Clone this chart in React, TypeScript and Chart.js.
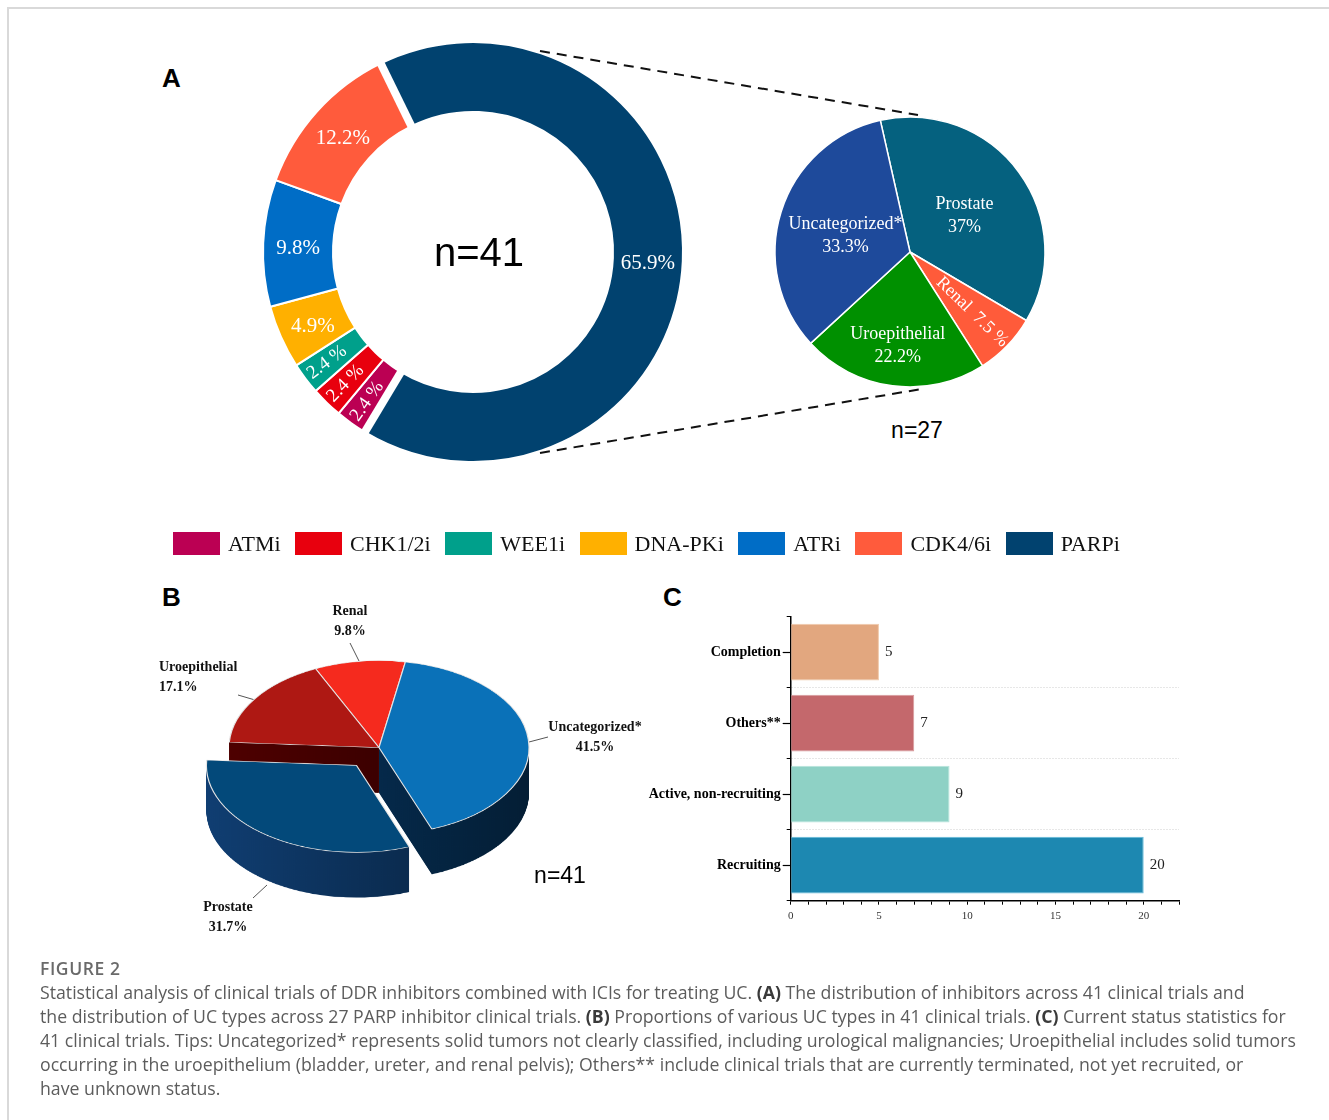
import React, { useEffect, useRef } from 'react';
import { Chart, registerables } from 'chart.js';

Chart.register(...registerables);

const SERIF = '"Liberation Serif", "Times New Roman", serif';
const SANS = '"Liberation Sans", Arial, sans-serif';
const CAPTION = '"Open Sans", Lato, sans-serif';

// ---------- Panel A (left): inhibitors across clinical trials ----------
const inhibitorLabels = ['ATMi', 'CHK1/2i', 'WEE1i', 'DNA-PKi', 'ATRi', 'CDK4/6i', 'PARPi'];
const inhibitorCounts = [1, 1, 1, 2, 4, 5, 27];
const inhibitorPctLabels = ['2.4 %', '2.4 %', '2.4 %', '4.9%', '9.8%', '12.2%', '65.9%'];
const inhibitorColors = ['#bb0053', '#e8000e', '#00a08b', '#ffb000', '#006dc6', '#ff5b3c', '#01426f'];

// ---------- Panel A (right): UC types in PARP inhibitor trials ----------
const parpLabels = ['Prostate', 'Renal', 'Uroepithelial', 'Uncategorized*'];
const parpPct = [37, 7.5, 22.2, 33.3];
const parpPctLabels = ['37%', '7.5 %', '22.2%', '33.3%'];
const parpColors = ['#05617f', '#ff5b3a', '#009000', '#1e4a9b'];

// ---------- Panel B: UC types in all trials ----------
const ucLabels = ['Renal', 'Uncategorized*', 'Prostate', 'Uroepithelial'];
const ucCounts = [4, 17, 13, 7];
const ucPctLabels = ['9.8%', '41.5%', '31.7%', '17.1%'];
const ucTopColors = ['#f52a1e', '#0a71b8', '#03497a', '#ae1813'];
const ucSideColors = ['#6a0a05', '#05294a', '#0c3058', '#3c0000'];
const explodedSlice = 'Prostate';

// ---------- Panel C: trial status ----------
const statusLabels = ['Completion', 'Others**', 'Active, non-recruiting', 'Recruiting'];
const statusCounts = [5, 7, 9, 20];
const statusColors = ['#e2a77f', '#c4686c', '#8ed1c5', '#1d88b1'];
const statusBorders = ['#f0c9aa', '#d89a9d', '#b6e4db', '#63bbdb'];
const statusAxisMax = 22;
const statusMajorStep = 5;

const sum = (a: number[]) => a.reduce((s, v) => s + v, 0);
const midAngle = (arc: any) => (arc.startAngle + arc.endAngle) / 2;
const shade = (hex: string, f: number) => {
  const n = parseInt(hex.slice(1), 16);
  const ch = [(n >> 16) & 255, (n >> 8) & 255, n & 255].map((v) => Math.max(0, Math.min(255, Math.round(v * f))));
  return `rgb(${ch[0]},${ch[1]},${ch[2]})`;
};

function useChart(ref: React.RefObject<HTMLCanvasElement>, make: () => any) {
  useEffect(() => {
    if (!ref.current) return;
    const chart = new Chart(ref.current, make());
    return () => chart.destroy();
  }, []);
}

function DonutA() {
  const ref = useRef<HTMLCanvasElement>(null);
  useChart(ref, () => {
    const total = sum(inhibitorCounts);
    const plugin = {
      id: 'donutDecor',
      afterDatasetsDraw(chart: any) {
        const { ctx } = chart;
        const arcs = chart.getDatasetMeta(0).data;
        const main = arcs[inhibitorLabels.indexOf('PARPi')];
        ctx.save();
        ctx.strokeStyle = '#ffffff';
        ctx.lineWidth = 8;
        for (const a of [main.startAngle, main.endAngle]) {
          ctx.beginPath();
          ctx.moveTo(main.x + Math.cos(a) * (main.innerRadius - 3), main.y + Math.sin(a) * (main.innerRadius - 3));
          ctx.lineTo(main.x + Math.cos(a) * (main.outerRadius + 3), main.y + Math.sin(a) * (main.outerRadius + 3));
          ctx.stroke();
        }
        ctx.fillStyle = '#ffffff';
        ctx.textAlign = 'center';
        ctx.textBaseline = 'middle';
        arcs.forEach((arc: any, i: number) => {
          const m = midAngle(arc);
          const small = inhibitorCounts[i] / total < 0.04;
          const r = (arc.innerRadius + arc.outerRadius) / 2 + (small ? 8 : 0);
          ctx.save();
          ctx.translate(arc.x + Math.cos(m) * r, arc.y + Math.sin(m) * r);
          if (small) ctx.rotate(m + Math.PI);
          ctx.font = `${small ? 19 : 21}px ${SERIF}`;
          ctx.fillText(inhibitorPctLabels[i], 0, small ? 0 : 4);
          ctx.restore();
        });
        ctx.fillStyle = '#000000';
        ctx.font = `40px ${SANS}`;
        ctx.fillText(`n=${total}`, main.x + 6, main.y + 3);
        ctx.restore();
      },
    };
    return {
      type: 'doughnut',
      data: {
        labels: inhibitorLabels,
        datasets: [{ data: inhibitorCounts, backgroundColor: inhibitorColors, borderColor: '#ffffff', borderWidth: 2 }],
      },
      options: {
        responsive: false,
        animation: false,
        radius: 210,
        cutout: '66.67%',
        rotation: 211,
        layout: { padding: 0 },
        plugins: { legend: { display: false }, tooltip: { enabled: false } },
      },
      plugins: [plugin],
    };
  });
  return <canvas ref={ref} width={440} height={440} style={{ position: 'absolute', left: 253, top: 32 }} />;
}

function PieParp() {
  const ref = useRef<HTMLCanvasElement>(null);
  useChart(ref, () => {
    const plugin = {
      id: 'parpLabels',
      afterDatasetsDraw(chart: any) {
        const { ctx } = chart;
        const arcs = chart.getDatasetMeta(0).data;
        ctx.save();
        ctx.fillStyle = '#ffffff';
        ctx.textAlign = 'center';
        ctx.textBaseline = 'middle';
        ctx.font = `18px ${SERIF}`;
        arcs.forEach((arc: any, i: number) => {
          const m = midAngle(arc);
          const R = arc.outerRadius;
          const share = parpPct[i];
          if (share < 10) {
            const r = R * 0.64;
            ctx.save();
            ctx.translate(arc.x + Math.cos(m) * r, arc.y + Math.sin(m) * r);
            ctx.rotate(m);
            ctx.fillText(`${parpLabels[i]}  ${parpPctLabels[i]}`, 0, 0);
            ctx.restore();
          } else {
            const r = R * (share > 30 ? 0.5 : 0.7);
            const x = arc.x + Math.cos(m) * r;
            const y = arc.y + Math.sin(m) * r + (share > 30 ? 4 : 0);
            ctx.fillText(parpLabels[i], x, y - 11.5);
            ctx.fillText(parpPctLabels[i], x, y + 11.5);
          }
        });
        ctx.restore();
      },
    };
    return {
      type: 'pie',
      data: {
        labels: parpLabels,
        datasets: [{ data: parpPct, backgroundColor: parpColors, borderColor: '#ffffff', borderWidth: 1.5 }],
      },
      options: {
        responsive: false,
        animation: false,
        radius: 135,
        rotation: -12.7,
        layout: { padding: 0 },
        plugins: { legend: { display: false }, tooltip: { enabled: false } },
      },
      plugins: [plugin],
    };
  });
  return <canvas ref={ref} width={300} height={300} style={{ position: 'absolute', left: 760, top: 102 }} />;
}

const SQUASH = 0.58;
function Pie3D() {
  const ref = useRef<HTMLCanvasElement>(null);
  useChart(ref, () => {
    const DEPTH = 78;
    const EXPLODE = 38;
    const plugin = {
      id: 'pie3d',
      beforeDatasetsDraw(chart: any) {
        const { ctx } = chart;
        const arcs = chart.getDatasetMeta(0).data;
        const order = arcs.map((_: any, i: number) => i).sort(
          (i: number, j: number) => Math.sin(midAngle(arcs[i])) - Math.sin(midAngle(arcs[j]))
        );
        order.forEach((i: number) => {
          const arc = arcs[i];
          const m = midAngle(arc);
          const ex = ucLabels[i] === explodedSlice ? Math.cos(m) * EXPLODE : 0;
          const ey = ucLabels[i] === explodedSlice ? Math.sin(m) * EXPLODE : 0;
          const R = arc.outerRadius;
          const grad = ctx.createLinearGradient(arc.x - R, 0, arc.x + R, 0);
          grad.addColorStop(0, shade(ucSideColors[i], 1.3));
          grad.addColorStop(0.5, ucSideColors[i]);
          grad.addColorStop(1, shade(ucSideColors[i], 0.72));
          const ghost = Object.create(arc);
          ghost.options = Object.assign({}, arc.options, { backgroundColor: grad, borderWidth: 0 });
          for (let d = DEPTH; d >= 1; d--) {
            ctx.save();
            ctx.translate(ex, ey + d);
            ghost.draw(ctx);
            ctx.restore();
          }
          ctx.save();
          ctx.translate(ex, ey);
          arc.draw(ctx);
          ctx.restore();
        });
        return false;
      },
    };
    return {
      type: 'pie',
      data: {
        labels: ucLabels,
        datasets: [{ data: ucCounts, backgroundColor: ucTopColors, borderColor: '#e6e6e6', borderWidth: 1.2 }],
      },
      options: {
        responsive: false,
        animation: false,
        radius: 150,
        rotation: -25,
        layout: { padding: { top: 0, left: 0, right: 0, bottom: 120 } },
        plugins: { legend: { display: false }, tooltip: { enabled: false } },
      },
      plugins: [plugin],
    };
  });
  return (
    <canvas
      ref={ref}
      width={440}
      height={560}
      style={{ position: 'absolute', left: 158.5, top: 620.4, width: 440, height: 560, transform: `scaleY(${SQUASH})`, transformOrigin: '0 0' }}
    />
  );
}

function BarStatus() {
  const ref = useRef<HTMLCanvasElement>(null);
  useChart(ref, () => {
    const plugin = {
      id: 'barDecor',
      afterDatasetsDraw(chart: any) {
        const { ctx } = chart;
        const ys = chart.scales.y;
        const bars = chart.getDatasetMeta(0).data;
        ctx.save();
        ctx.strokeStyle = '#000000';
        ctx.lineWidth = 1.2;
        statusLabels.forEach((_, i) => {
          const y = Math.round(ys.getPixelForValue(i)) + 0.5;
          ctx.beginPath();
          ctx.moveTo(ys.right - 8, y);
          ctx.lineTo(ys.right, y);
          ctx.stroke();
        });
        ctx.fillStyle = '#222222';
        ctx.font = `15px ${SERIF}`;
        ctx.textBaseline = 'middle';
        ctx.textAlign = 'left';
        bars.forEach((bar: any, i: number) => ctx.fillText(String(statusCounts[i]), bar.x + 6, bar.y));
        ctx.restore();
      },
    };
    return {
      type: 'bar',
      data: {
        labels: statusLabels,
        datasets: [{
          data: statusCounts,
          backgroundColor: statusColors,
          borderColor: statusBorders,
          borderWidth: 1,
          barPercentage: 0.8,
          categoryPercentage: 1,
        }],
      },
      options: {
        indexAxis: 'y',
        responsive: false,
        animation: false,
        layout: { padding: { top: 16.7, right: 21, left: 0, bottom: 0 } },
        plugins: { legend: { display: false }, tooltip: { enabled: false } },
        scales: {
          x: {
            min: 0,
            max: statusAxisMax,
            afterFit: (s: any) => { s.height = 34.3; },
            ticks: {
              stepSize: 1,
              autoSkip: false,
              maxRotation: 0,
              padding: 5,
              color: '#333333',
              font: { family: SERIF, size: 11 },
              callback: (v: any) => (Number(v) % statusMajorStep === 0 ? String(v) : ''),
            },
            grid: { drawOnChartArea: false, drawTicks: true, tickLength: 4, tickColor: '#000000' },
            border: { color: '#000000', width: 1.5 },
          },
          y: {
            afterFit: (s: any) => { s.width = 150.7; },
            ticks: { autoSkip: false, padding: 6, color: '#000000', font: { family: SERIF, size: 14, weight: 'bold' } },
            grid: {
              offset: true,
              color: (c: any) => (c.index === 0 || c.index === statusLabels.length ? 'rgba(0,0,0,0)' : '#cfcfcf'),
              tickColor: '#000000',
              tickLength: 4,
              lineWidth: 1,
            },
            border: { color: '#000000', width: 1.5, dash: [1, 2] },
          },
        },
      },
      plugins: [plugin],
    };
  });
  return <canvas ref={ref} width={560} height={335} style={{ position: 'absolute', left: 640, top: 600 }} />;
}

type TProps = { x: number; y: number; size: number; family?: string; weight?: any; color?: string; align?: 'left' | 'center' | 'right'; children: any };
function T({ x, y, size, family = SANS, weight = 'normal', color = '#000', align = 'left', children }: TProps) {
  const tx = align === 'center' ? '-50%' : align === 'right' ? '-100%' : '0';
  return (
    <div style={{ position: 'absolute', left: x, top: y, fontSize: size, lineHeight: 1, fontFamily: family, fontWeight: weight, color, whiteSpace: 'nowrap', transform: `translate(${tx}, -50%)` }}>
      {children}
    </div>
  );
}

function LabelBlock({ x, top, align, lines }: { x: number; top: number; align: 'left' | 'center'; lines: string[] }) {
  return (
    <div style={{ position: 'absolute', left: x, top, transform: align === 'center' ? 'translateX(-50%)' : 'none', fontFamily: SERIF, fontWeight: 'bold', fontSize: 14, lineHeight: '20px', textAlign: align, color: '#111', whiteSpace: 'nowrap' }}>
      {lines.map((l, i) => <div key={i}>{l}</div>)}
    </div>
  );
}

export default function App() {
  const ucIdx = (name: string) => ucLabels.indexOf(name);
  const parpN = inhibitorCounts[inhibitorLabels.indexOf('PARPi')];
  const bold = { fontWeight: 700, color: '#3a3a3a' };
  return (
    <div style={{ position: 'absolute', left: 0, top: 0, width: 1329, height: 1120, background: '#ffffff', overflow: 'hidden' }}>
      <div style={{ position: 'absolute', left: 7, top: 7, right: 0, bottom: 0, borderTop: '2px solid #d9d9d9', borderLeft: '2px solid #d9d9d9' }} />

      <T x={162} y={77.5} size={26} weight="bold">A</T>
      <T x={162} y={597} size={26} weight="bold">B</T>
      <T x={663} y={597} size={26} weight="bold">C</T>

      <DonutA />
      <PieParp />
      <T x={917} y={430} size={23} align="center">{`n=${parpN}`}</T>

      <svg width={1329} height={1120} style={{ position: 'absolute', left: 0, top: 0, pointerEvents: 'none' }}>
        <line x1={540} y1={51} x2={918} y2={115} stroke="#111" strokeWidth={2} strokeDasharray="10 7" />
        <line x1={540} y1={453} x2={922} y2={389} stroke="#111" strokeWidth={2} strokeDasharray="10 7" />
        <line x1={350} y1={643} x2={359} y2={661} stroke="#555" strokeWidth={1} />
        <line x1={238} y1={695} x2={255} y2={700} stroke="#555" strokeWidth={1} />
        <line x1={529} y1={742} x2={548} y2={737} stroke="#555" strokeWidth={1} />
        <line x1={253} y1={898} x2={267} y2={885} stroke="#555" strokeWidth={1} />
      </svg>

      <div style={{ position: 'absolute', left: 173, top: 532, height: 23, display: 'flex', alignItems: 'center' }}>
        {inhibitorLabels.map((l, i) => (
          <div key={l} style={{ display: 'flex', alignItems: 'center', marginRight: 14.5 }}>
            <div style={{ width: 47, height: 23, background: inhibitorColors[i] }} />
            <div style={{ marginLeft: 8, fontFamily: SERIF, fontSize: 22, lineHeight: 1, color: '#111' }}>{l}</div>
          </div>
        ))}
      </div>

      <Pie3D />
      <LabelBlock x={350} top={601} align="center" lines={[ucLabels[ucIdx('Renal')], ucPctLabels[ucIdx('Renal')]]} />
      <LabelBlock x={159} top={657} align="left" lines={[ucLabels[ucIdx('Uroepithelial')], ucPctLabels[ucIdx('Uroepithelial')]]} />
      <LabelBlock x={595} top={717} align="center" lines={[ucLabels[ucIdx('Uncategorized*')], ucPctLabels[ucIdx('Uncategorized*')]]} />
      <LabelBlock x={228} top={897} align="center" lines={[ucLabels[ucIdx('Prostate')], ucPctLabels[ucIdx('Prostate')]]} />
      <T x={560} y={875} size={23} align="center">{`n=${sum(ucCounts)}`}</T>

      <BarStatus />

      <div style={{ position: 'absolute', left: 40, top: 956, fontFamily: CAPTION, fontSize: 17.5, lineHeight: '24px', fontWeight: 600, color: '#6a6a6a', letterSpacing: 0.6 }}>FIGURE 2</div>
      <div style={{ position: 'absolute', left: 40, top: 980, fontFamily: CAPTION, fontSize: 17.7, lineHeight: '24px', color: '#5c5c5c', whiteSpace: 'nowrap' }}>
        <div>Statistical analysis of clinical trials of DDR inhibitors combined with ICIs for treating UC. <span style={bold}>(A)</span> The distribution of inhibitors across 41 clinical trials and</div>
        <div>the distribution of UC types across 27 PARP inhibitor clinical trials. <span style={bold}>(B)</span> Proportions of various UC types in 41 clinical trials. <span style={bold}>(C)</span> Current status statistics for</div>
        <div>41 clinical trials. Tips: Uncategorized* represents solid tumors not clearly classified, including urological malignancies; Uroepithelial includes solid tumors</div>
        <div>occurring in the uroepithelium (bladder, ureter, and renal pelvis); Others** include clinical trials that are currently terminated, not yet recruited, or</div>
        <div>have unknown status.</div>
      </div>
    </div>
  );
}
